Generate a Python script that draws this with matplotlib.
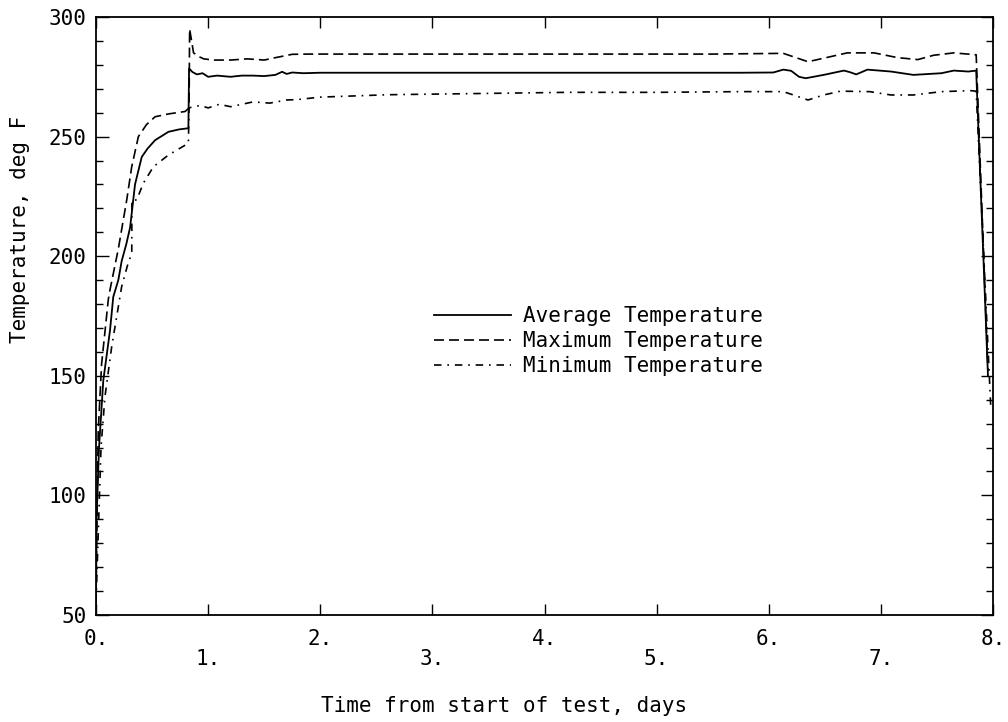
import matplotlib
matplotlib.use('Agg')
import matplotlib.pyplot as plt
from matplotlib.ticker import MultipleLocator

# valori (giorni, gradi F)
day_avg = [0, 0.006, 0.027, 0.065, 0.125, 0.154, 0.199, 0.229, 0.27, 0.304,
           0.348, 0.408, 0.46, 0.527, 0.646, 0.74, 0.824, 0.83, 0.86, 0.9,
           0.95, 1.0, 1.08, 1.2, 1.3, 1.4, 1.5, 1.6, 1.66, 1.7,
           1.75, 1.85, 2.0, 3.0, 4.0, 5.0, 5.75, 6.04, 6.13, 6.2,
           6.27, 6.33, 6.49, 6.67, 6.72, 6.78, 6.88, 7.09, 7.29, 7.54,
           7.65, 7.78, 7.85, 7.955]
temp_avg = [55, 92, 120, 148, 169, 183, 190, 198, 205, 212,
            230, 241.5, 245, 248.5, 252, 253, 253.5, 278.5, 277, 276,
            276.5, 275, 275.5, 275, 275.5, 275.5, 275.3, 275.8, 277.1, 276.2,
            276.8, 276.5, 276.7, 276.7, 276.7, 276.7, 276.7, 276.8, 278, 277.5,
            275, 274.4, 275.8, 277.6, 277, 276, 278, 277.2, 275.8, 276.5,
            277.6, 277.2, 277.6, 150]

day_max = [0, 0.02, 0.05, 0.11, 0.125, 0.199, 0.274, 0.319, 0.378, 0.45,
           0.527, 0.65, 0.795, 0.83, 0.835, 0.87, 0.92, 0.96, 1.05, 1.2,
           1.35, 1.5, 1.6, 1.75, 1.9, 2.5, 3.5, 4.5, 5.5, 6.13,
           6.35, 6.53, 6.7, 6.94, 7.15, 7.33, 7.47, 7.65, 7.8, 7.85,
           7.955]
temp_max = [60, 127, 155, 182, 186, 203, 223.5, 237.5, 250, 255,
            258.3, 259.5, 260.5, 262, 295, 285, 283.4, 282.5, 282, 282,
            282.5, 282, 283, 284.4, 284.5, 284.5, 284.5, 284.5, 284.5, 284.8,
            281.3, 283.2, 285, 285, 283, 282.2, 284, 285, 284.4, 284.2,
            152]

day_min = [0, 0.045, 0.08, 0.14, 0.229, 0.28, 0.319, 0.32, 0.363, 0.422,
           0.512, 0.646, 0.824, 0.83, 0.87, 0.93, 1.0, 1.1, 1.2, 1.4,
           1.55, 1.7, 1.8, 2.0, 2.6, 3.4, 4.2, 5.0, 5.75, 6.13,
           6.22, 6.35, 6.49, 6.64, 6.9, 7.09, 7.29, 7.54, 7.8, 7.85,
           7.98]
temp_min = [55, 120.4, 141.3, 162.2, 187.3, 196, 201.3, 223.5, 223.5, 230.5,
            237.4, 242.3, 247.2, 262, 262.5, 263, 262, 263.5, 262.5, 264.5,
            264, 265.3, 265.5, 266.5, 267.5, 268, 268.5, 268.5, 268.8, 268.8,
            267.4, 265.3, 267.4, 269, 268.8, 267.4, 267.4, 268.8, 269.2, 269,
            137]

x_ticks = [0, 1, 2, 3, 4, 5, 6, 7, 8]
x_labels = ['0.', '\n1.', '2.', '\n3.', '4.', '\n5.', '6.', '\n7.', '8.']
y_ticks = [50, 100, 150, 200, 250, 300]

FONT = 'DejaVu Sans Mono'
plt.rcParams['font.family'] = FONT
plt.rcParams['font.size'] = 15

fig = plt.figure(figsize=(10.08, 7.22), dpi=100)
ax = fig.add_axes([96 / 1008, 1 - 615 / 722, 897 / 1008, 598 / 722])

ax.plot(day_avg, temp_avg, color='black', lw=1.3, label='Average Temperature')
ax.plot(day_max, temp_max, color='black', lw=1.2, dashes=(6, 3),
        label='Maximum Temperature')
ax.plot(day_min, temp_min, color='black', lw=1.2, dashes=(4.5, 3.5, 1, 3.5),
        label='Minimum Temperature')

ax.set_xlim(0, 8)
ax.set_ylim(50, 300)
ax.set_xticks(x_ticks)
ax.set_xticklabels(x_labels, linespacing=1.0)
ax.set_yticks(y_ticks)
ax.yaxis.set_minor_locator(MultipleLocator(10))
ax.tick_params(axis='x', which='both', direction='in', top=True, length=8,
               width=1, pad=10)
ax.tick_params(axis='y', which='major', direction='in', right=True, length=9,
               width=1, pad=7)
ax.tick_params(axis='y', which='minor', direction='in', right=True, length=5,
               width=1)
for s in ax.spines.values():
    s.set_linewidth(1.3)

ax.set_xlabel('Time from start of test, days')
ax.xaxis.set_label_coords(0.455, -0.135)
ax.set_ylabel('Temperature, deg F')
ax.yaxis.set_label_coords(-0.074, 0.645)

ax.legend(loc='center', bbox_to_anchor=(0.56, 0.458), frameon=False,
          handlelength=3.7, handletextpad=0.6, labelspacing=0.25,
          borderpad=0)

fig.savefig('out.png', dpi=100)
